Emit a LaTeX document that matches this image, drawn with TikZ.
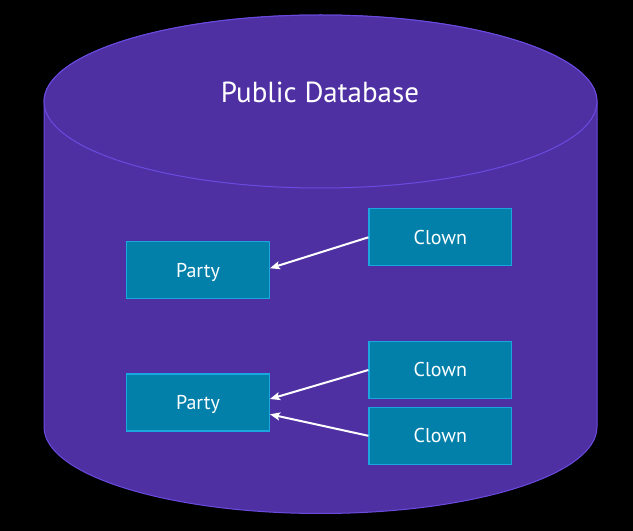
\documentclass[tikz,border=0pt]{standalone}
\usepackage{fontspec}
\setmainfont{PT Sans}
\usetikzlibrary{arrows.meta}
\definecolor{cylfill}{RGB}{79,48,163}
\definecolor{cylline}{RGB}{106,75,224}
\definecolor{boxfill}{RGB}{2,128,170}
\definecolor{boxline}{RGB}{26,166,223}
\tikzset{
  entity/.style={draw=boxline, line width=1.2pt, fill=boxfill, text=white,
    minimum width=142.6pt, minimum height=57pt, inner sep=0pt,
    text height=14pt, text depth=0pt, font=\fontsize{20}{24}\selectfont},
  link/.style={draw=white, line width=2pt,
    -{Stealth[length=10pt,width=8pt,inset=2pt]}}
}
\begin{document}
\begin{tikzpicture}[x=1pt,y=1pt]
\useasboundingbox[fill=black] (0,0) rectangle (633,531);
% cylinder body
\path[fill=cylfill, draw=cylline, line width=1pt]
  (44,429.5) -- (44,104)
  arc[start angle=180, end angle=360, x radius=276.5pt, y radius=86.5pt]
  -- (597,429.5)
  arc[start angle=0, end angle=180, x radius=276.5pt, y radius=86.5pt]
  -- cycle;
\draw[cylline, line width=1pt, fill=cylfill] (320.5,429.5) ellipse [x radius=276.5pt, y radius=86.5pt];
\node[text=white, anchor=base, font=\fontsize{29}{35}\selectfont] (title) at (320,428) {Public Database};
% boxes
\node[entity] (party1) at (198,260.7) {Party};
\node[entity] (clown1) at (440.3,293.7) {Clown};
\node[entity] (party2) at (198,128.5) {Party};
\node[entity] (clown2) at (440.3,161) {Clown};
\node[entity] (clown3) at (440.3,95.2) {Clown};
% connectors
\draw[link] (clown1.west) -- ([yshift=2pt]party1.east);
\draw[link] (clown2.west) -- ([yshift=3.5pt]party2.east);
\draw[link] (clown3.west) -- ([yshift=-11.8pt]party2.east);
\end{tikzpicture}
\end{document}
